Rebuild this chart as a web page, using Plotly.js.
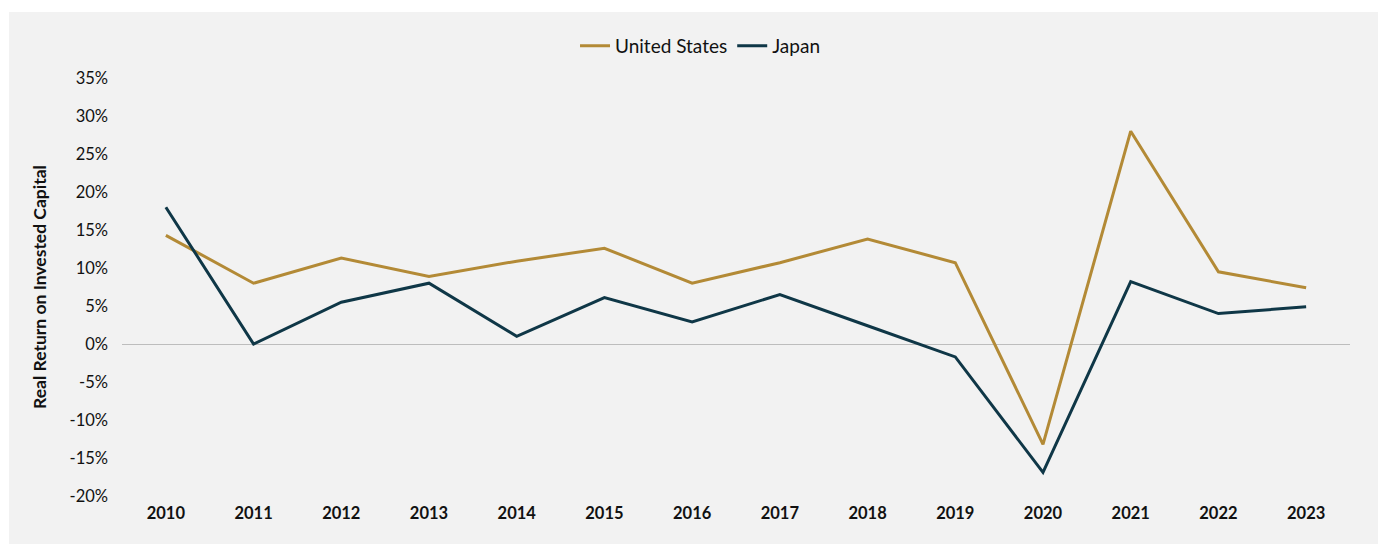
<!DOCTYPE html>
<html>
<head>
<meta charset="utf-8">
<script src="https://cdn.plot.ly/plotly-3.0.1.min.js"></script>
<style>
  html, body { margin: 0; padding: 0; background: #ffffff; width: 1378px; height: 544px; overflow: hidden; }
  #frame { position: absolute; left: 9px; top: 12px; width: 1369px; height: 532px; background: #f2f2f2; }
  #chart { width: 1369px; height: 532px; }
</style>
</head>
<body>
<div id="frame"><div id="chart"></div></div>
<script>
const years = ['2010','2011','2012','2013','2014','2015','2016','2017','2018','2019','2020','2021','2022','2023'];
const unitedStates = [14.3, 8.0, 11.3, 8.9, 10.9, 12.6, 8.0, 10.7, 13.8, 10.7, -13.2, 28.0, 9.5, 7.4];
const japan = [18.0, 0.0, 5.5, 8.0, 1.0, 6.1, 2.9, 6.5, 2.4, -1.7, -16.9, 8.2, 4.0, 4.9];
const yTicks = [-20, -15, -10, -5, 0, 5, 10, 15, 20, 25, 30, 35];
const yTickLabels = yTicks.map(v => v + '%');

const traces = [
  { x: years, y: unitedStates, name: 'United States', type: 'scatter', mode: 'lines',
    line: { color: '#B38A36', width: 3 } },
  { x: years, y: japan, name: 'Japan', type: 'scatter', mode: 'lines',
    line: { color: '#0F3747', width: 3 } }
];

const layout = {
  width: 1369, height: 532,
  paper_bgcolor: '#f2f2f2', plot_bgcolor: '#f2f2f2',
  margin: { l: 113, r: 28, t: 66, b: 48 },
  font: { family: 'Lato, "Noto Sans", sans-serif', color: '#111111', size: 14 },
  showlegend: true,
  legend: { orientation: 'h', x: 0.4707, xanchor: 'center', y: 1.077, yanchor: 'middle',
    font: { size: 19, color: '#111111' }, itemwidth: 30, tracegroupgap: 0, bgcolor: 'rgba(0,0,0,0)' },
  xaxis: {
    type: 'category', range: [-0.5, 13.5], showgrid: false, zeroline: false, showline: false,
    ticks: '', tickfont: { size: 16.5, color: '#111111', weight: 'bold' }, ticklabelstandoff: 5
  },
  yaxis: {
    range: [-20, 35], tickmode: 'array', tickvals: yTicks, ticktext: yTickLabels, showgrid: false,
    zeroline: true, zerolinecolor: '#bdbdbd', zerolinewidth: 1, showline: false, ticks: '',
    tickfont: { size: 16.5, color: '#111111' }, ticklabelstandoff: 13,
    title: { text: 'Real Return on Invested Capital', font: { size: 17.5, color: '#111111', weight: 'bold' }, standoff: 18 }
  }
};

Plotly.newPlot('chart', traces, layout, { displayModeBar: false, staticPlot: true });
</script>
</body>
</html>
